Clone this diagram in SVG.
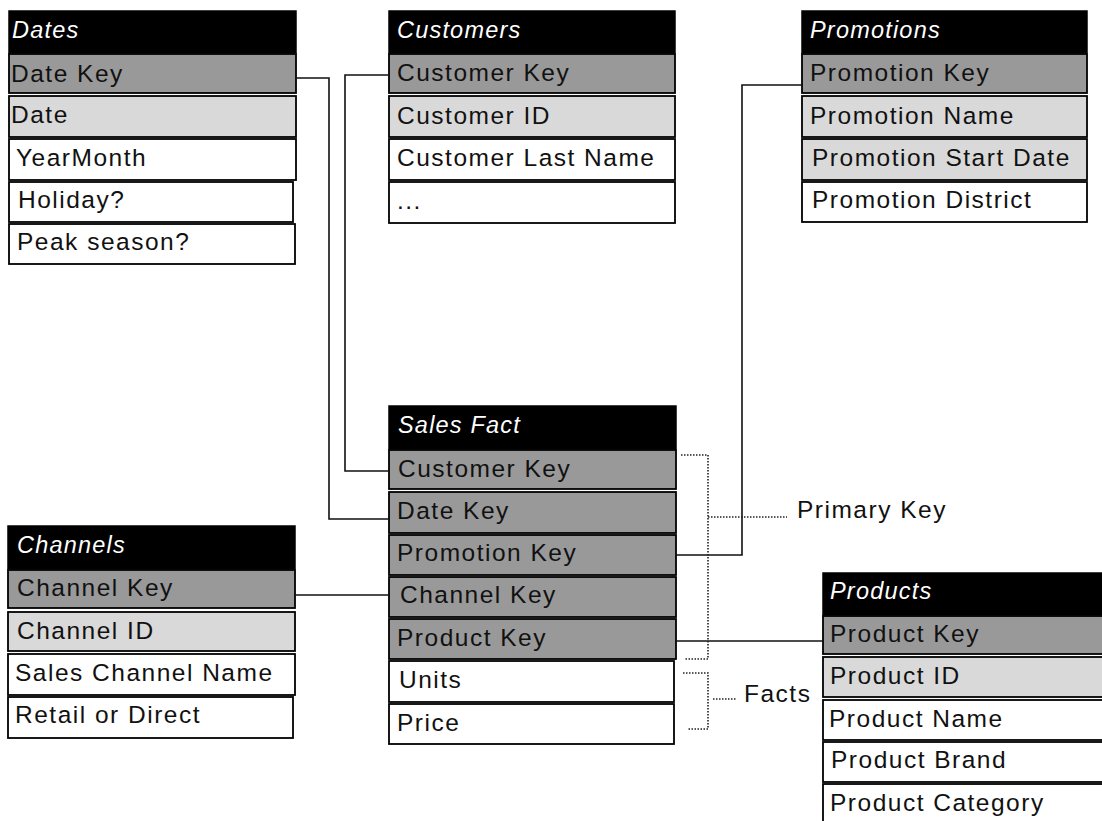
<svg xmlns="http://www.w3.org/2000/svg" width="1102" height="821" viewBox="0 0 1102 821">
<style>
  .hd { fill: #000; stroke: #000; stroke-width: 1.5; }
  .pk { fill: #999999; stroke: #000; stroke-width: 1.8; }
  .lt { fill: #d9d9d9; stroke: #000; stroke-width: 1.8; }
  .wh { fill: #ffffff; stroke: #000; stroke-width: 1.8; }
  text { font-family: "Liberation Sans", Arial, sans-serif; font-size: 24.5px; letter-spacing: 1.5px; fill: #111; }
  .ht { fill: #fff; font-style: italic; font-size: 23.5px; letter-spacing: 1.2px; }
  .ln { fill: none; stroke: #111; stroke-width: 1.6; }
  .dt { fill: none; stroke: #222; stroke-width: 1.6; stroke-dasharray: 1.5 1.5; }
</style>
<rect width="1102" height="821" fill="#fff"/>

<g id="dates">
  <rect class="hd" x="9" y="11" width="287" height="42"/>
  <text class="ht" x="12" y="38">Dates</text>
  <rect class="pk" x="9" y="54" width="287" height="39"/>
  <text x="11" y="82">Date Key</text>
  <rect class="lt" x="9" y="96" width="287" height="41"/>
  <text x="11" y="123">Date</text>
  <rect class="wh" x="9" y="139" width="287" height="41"/>
  <text x="16" y="166">YearMonth</text>
  <rect class="wh" x="9" y="182" width="284" height="40"/>
  <text x="18" y="208">Holiday?</text>
  <rect class="wh" x="9" y="224" width="286" height="40"/>
  <text x="17" y="250">Peak season?</text>
</g>

<g id="customers">
  <rect class="hd" x="389" y="11" width="286" height="42"/>
  <text class="ht" x="397" y="38">Customers</text>
  <rect class="pk" x="389" y="54" width="286" height="39"/>
  <text x="397" y="81">Customer Key</text>
  <rect class="lt" x="389" y="96" width="286" height="41"/>
  <text x="397" y="124">Customer ID</text>
  <rect class="wh" x="389" y="139" width="286" height="41"/>
  <text x="397" y="166">Customer Last Name</text>
  <rect class="wh" x="389" y="182" width="286" height="41"/>
  <text x="397" y="209">...</text>
</g>

<g id="promotions">
  <rect class="hd" x="802" y="11" width="285" height="42"/>
  <text class="ht" x="810" y="38">Promotions</text>
  <rect class="pk" x="802" y="54" width="285" height="39"/>
  <text x="810" y="81">Promotion Key</text>
  <rect class="lt" x="802" y="96" width="285" height="41"/>
  <text x="810" y="124">Promotion Name</text>
  <rect class="lt" x="802" y="139" width="285" height="41"/>
  <text x="812" y="166">Promotion Start Date</text>
  <rect class="wh" x="802" y="182" width="285" height="40"/>
  <text x="812" y="208">Promotion District</text>
</g>

<g id="sales-fact">
  <rect class="hd" x="389" y="406" width="287" height="43"/>
  <text class="ht" x="398" y="433">Sales Fact</text>
  <rect class="pk" x="389" y="450" width="287" height="39"/>
  <text x="398" y="477">Customer Key</text>
  <rect class="pk" x="389" y="492" width="287" height="41"/>
  <text x="397" y="519">Date Key</text>
  <rect class="pk" x="389" y="535" width="287" height="40"/>
  <text x="397" y="561">Promotion Key</text>
  <rect class="pk" x="389" y="577" width="287" height="40"/>
  <text x="400" y="603">Channel Key</text>
  <rect class="pk" x="389" y="619" width="287" height="40"/>
  <text x="397" y="646">Product Key</text>
  <rect class="wh" x="389" y="661" width="285" height="41"/>
  <text x="399" y="688">Units</text>
  <rect class="wh" x="389" y="704" width="285" height="40"/>
  <text x="397" y="731">Price</text>
</g>

<g id="channels">
  <rect class="hd" x="8" y="526" width="287" height="43"/>
  <text class="ht" x="17" y="553">Channels</text>
  <rect class="pk" x="8" y="570" width="287" height="38"/>
  <text x="17" y="596">Channel Key</text>
  <rect class="lt" x="8" y="612" width="287" height="39"/>
  <text x="17" y="639">Channel ID</text>
  <rect class="wh" x="8" y="654" width="287" height="41"/>
  <text x="15" y="681">Sales Channel Name</text>
  <rect class="wh" x="8" y="697" width="285" height="41"/>
  <text x="15" y="723">Retail or Direct</text>
</g>

<g id="products">
  <rect class="hd" x="823" y="573" width="290" height="42"/>
  <text class="ht" x="830" y="599">Products</text>
  <rect class="pk" x="823" y="616" width="290" height="38"/>
  <text x="830" y="642">Product Key</text>
  <rect class="lt" x="823" y="657" width="290" height="40"/>
  <text x="830" y="684">Product ID</text>
  <rect class="wh" x="823" y="700" width="290" height="40"/>
  <text x="829" y="727">Product Name</text>
  <rect class="wh" x="823" y="742" width="290" height="40"/>
  <text x="831" y="768">Product Brand</text>
  <rect class="wh" x="823" y="784" width="290" height="45"/>
  <text x="830" y="811">Product Category</text>
</g>

<g id="connectors">
  <path class="ln" d="M296,78 H329 V519 H389"/>
  <path class="ln" d="M389,75 H345 V471 H389"/>
  <path class="ln" d="M802,85 H742 V555 H676"/>
  <path class="ln" d="M295,595 H389"/>
  <path class="ln" d="M676,641 H823"/>
</g>

<g id="brackets">
  <path class="dt" d="M681,455 H708 V659 H685"/>
  <path class="dt" d="M708,517 H787"/>
  <text x="797" y="518">Primary Key</text>
  <path class="dt" d="M683,673 H708 V729 H687"/>
  <path class="dt" d="M713,699 H736"/>
  <text x="744" y="702">Facts</text>
</g>
</svg>
